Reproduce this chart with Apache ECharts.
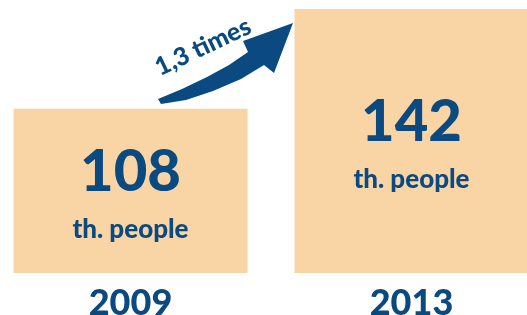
<!DOCTYPE html>
<html>
<head>
<meta charset="utf-8">
<script src="https://cdn.jsdelivr.net/npm/echarts@6/dist/echarts.min.js"></script>
<style>
html,body{margin:0;padding:0;background:#fff;}
#main{width:527px;height:315px;}
</style>
</head>
<body>
<div id="main"></div>
<script>
var years = ['2009', '2013'];
var values = [108, 142];
var unit = 'th. people';
var growth = '1,3 times';

var blue = '#0b4a80';
var peach = '#f9d4a5';

var chart = echarts.init(document.getElementById('main'));
var option = {
    animation: false,
    grid: {left: -10, right: -25, top: 9, bottom: 42, outerBoundsMode: 'none', containLabel: false},
    xAxis: {
        type: 'category',
        data: years,
        axisLine: {show: false},
        axisTick: {show: false},
        axisLabel: {
            color: blue, fontFamily: 'Lato', fontWeight: 900, fontSize: 36, margin: 12
        }
    },
    yAxis: {
        type: 'value',
        min: 52,
        max: 142,
        show: false,
        splitLine: {show: false}
    },
    series: [{
        type: 'bar',
        data: values,
        barWidth: 234,
        itemStyle: {color: peach},
        label: {
            show: true,
            position: 'inside',
            offset: [0, 2],
            formatter: function (p) { return '{v|' + p.value + '}\n{u|' + unit + '}'; },
            rich: {
                v: {color: blue, fontFamily: 'Lato', fontWeight: 900, fontSize: 58, lineHeight: 74},
                u: {color: blue, fontFamily: 'Lato', fontWeight: 900, fontSize: 26, lineHeight: 42}
            }
        }
    }],
    graphic: [
        {
            // curved arrow
            type: 'polygon',
            shape: {
                points: [
                    [158, 99], [182, 89], [207, 77], [229, 65], [248, 52],
                    [243, 41], [293, 23], [274, 73], [264, 65],
                    [241, 79], [213, 91], [186, 100], [161, 104]
                ]
            },
            style: {fill: blue}
        },
        {
            type: 'text',
            x: 203, y: 47,
            rotation: 25.4 * Math.PI / 180,
            style: {
                text: growth, fill: blue, fontFamily: 'Lato', fontWeight: 900, fontSize: 25,
                align: 'center', verticalAlign: 'middle'
            }
        }
    ]
};
chart.setOption(option);
</script>
</body>
</html>
